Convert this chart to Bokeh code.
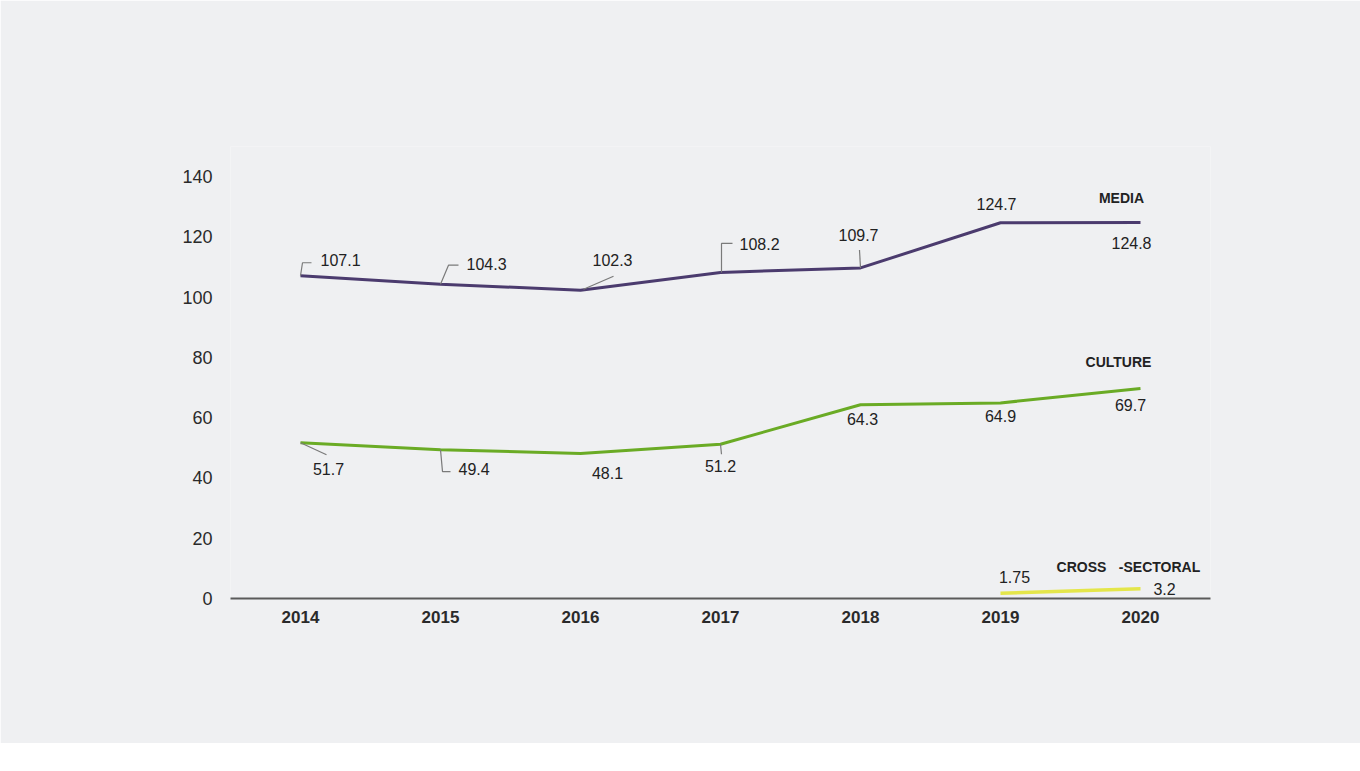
from bokeh.plotting import figure
from bokeh.models import ColumnDataSource, Range1d, FixedTicker
from bokeh.embed import file_html
from bokeh.resources import INLINE
from bokeh.core.properties import value

# ---------------- data ----------------
years = [2014, 2015, 2016, 2017, 2018, 2019, 2020]
media = [107.1, 104.3, 102.3, 108.2, 109.7, 124.7, 124.8]
culture = [51.7, 49.4, 48.1, 51.2, 64.3, 64.9, 69.7]
cross_years = [2019, 2020]
cross = [1.75, 3.2]
y_ticks = [0, 20, 40, 60, 80, 100, 120, 140]
series_names = ["MEDIA", "CULTURE", "CROSS", "-SECTORAL"]

# ---------------- styling / layout ----------------
BG = "#eff0f2"
FONT = "Liberation Sans"
W, H = 1360, 743
BL, BR, BT, BB = 230, 150, 146, 145
X0, X1 = 2013.5, 2020.5
Y0, Y1 = 0, 150
PXX = (W - BL - BR) / (X1 - X0)
PXY = (H - BT - BB) / (Y1 - Y0)

MEDIA_C = "#4b3b6e"
CULT_C = "#6aab25"
CROSS_C = "#e4e64a"
LEAD_C = "#7a7a7a"
TXT_C = "#222222"

# label offsets (pixels; +dy = down) and alignments
media_lab = [(20, -16, "left"), (26, -20, "left"), (32, -30, "center"), (19, -28, "left"),
             (-2, -33, "center"), (-4, -19, "center"), (-9, 21, "center")]
cult_lab = [(28, 26, "center"), (18, 19, "left"), (27, 19, "center"), (0, 22, "center"),
            (2, 14, "center"), (0, 13, "center"), (-10, 17, "center")]
cross_lab = [(14, -16, "center"), (24, 0, "center")]

media_lead = {0: [(0, 0), (2, -13), (11, -13)], 1: [(0, 0), (8, -19), (18, -19)],
              2: [(3, -1), (33, -14)], 3: [(1, 0), (1, -29), (12, -29)], 4: [(0, 0), (-1, -18)]}
cult_lead = {0: [(0, 0), (26, 12)], 1: [(0, 0), (2, 22), (10, 22)], 3: [(0, 0), (1, 10)]}

p = figure(width=W, height=H, output_backend="svg", toolbar_location=None,
           x_range=Range1d(X0, X1), y_range=Range1d(Y0, Y1),
           min_border_left=BL, min_border_right=BR, min_border_top=BT, min_border_bottom=BB,
           background_fill_color=BG, border_fill_color=BG)
p.outline_line_color = None
p.grid.visible = False

p.yaxis.ticker = FixedTicker(ticks=y_ticks)
p.yaxis.axis_line_color = None
p.yaxis.major_tick_line_color = None
p.yaxis.minor_tick_line_color = None
p.yaxis.major_tick_out = 0
p.yaxis.major_tick_in = 0
p.yaxis.major_label_standoff = 18
p.yaxis.major_label_text_font = FONT
p.yaxis.major_label_text_font_size = "18px"
p.yaxis.major_label_text_color = "#2a2a2a"

p.xaxis.ticker = FixedTicker(ticks=years)
p.xaxis.axis_line_color = "#5a5a5a"
p.xaxis.axis_line_width = 2
p.xaxis.major_tick_line_color = None
p.xaxis.minor_tick_line_color = None
p.xaxis.major_tick_out = 0
p.xaxis.major_tick_in = 0
p.xaxis.major_label_standoff = 12
p.xaxis.major_label_text_font = FONT
p.xaxis.major_label_text_font_size = "17px"
p.xaxis.major_label_text_font_style = "bold"
p.xaxis.major_label_text_color = "#2a2a2a"

# lines
p.line(years, media, line_color=MEDIA_C, line_width=3)
p.line(years, culture, line_color=CULT_C, line_width=3)
p.line(cross_years, cross, line_color=CROSS_C, line_width=3.5)

# leader lines
xs, ys = [], []
for series, leads in ((media, media_lead), (culture, cult_lead)):
    for i, path in leads.items():
        xs.append([years[i] + dx / PXX for dx, dy in path])
        ys.append([series[i] - dy / PXY for dx, dy in path])
p.multi_line(xs, ys, line_color=LEAD_C, line_width=1.2)

# value labels
def add_labels(xv, yv, offs, size="16px", bold=False, texts=None):
    for align in ("left", "center"):
        idx = [i for i, o in enumerate(offs) if o[2] == align]
        if not idx:
            continue
        src = ColumnDataSource(dict(
            x=[xv[i] for i in idx], y=[yv[i] for i in idx],
            t=[texts[i] if texts else f"{yv[i]:g}" for i in idx],
            dx=[offs[i][0] for i in idx], dy=[offs[i][1] for i in idx]))
        p.text(x="x", y="y", text="t", x_offset="dx", y_offset="dy", source=src,
               text_align=align, text_baseline="middle", text_font=value(FONT),
               text_font_size=size, text_color=TXT_C,
               text_font_style="bold" if bold else "normal")

add_labels(years, media, media_lab)
add_labels(years, culture, cult_lab)
add_labels(cross_years, cross, cross_lab)

# series names
name_x = [years[-1], years[-1], cross_years[-1], cross_years[-1]]
name_y = [media[-1], culture[-1], cross[-1], cross[-1]]
name_offs = [(-19, -24, "center"), (-22, -26, "center"), (-59, -22, "center"), (19, -22, "center")]
add_labels(name_x, name_y, name_offs, size="14px", bold=True, texts=series_names)

open("out.html", "w").write(file_html(p, INLINE))
